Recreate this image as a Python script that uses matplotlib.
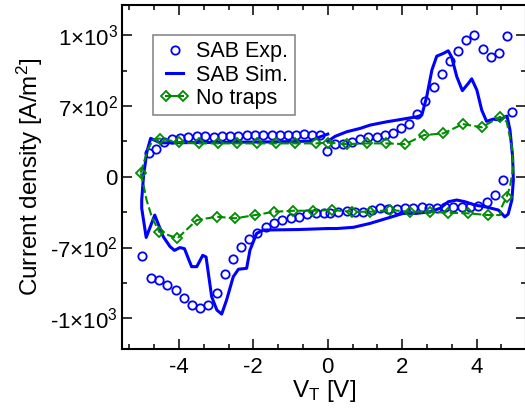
import numpy as np
import matplotlib
matplotlib.use('Agg')
import matplotlib.pyplot as plt
from matplotlib.lines import Line2D
from matplotlib.legend_handler import HandlerLine2D
from matplotlib.ticker import FixedLocator, FixedFormatter

plt.rcParams['font.family'] = ['Liberation Sans', 'DejaVu Sans']
plt.rcParams['mathtext.fontset'] = 'custom'
plt.rcParams['mathtext.rm'] = 'Liberation Sans'
plt.rcParams['mathtext.it'] = 'Liberation Sans:italic'
plt.rcParams['mathtext.bf'] = 'Liberation Sans:bold'
plt.rcParams['axes.unicode_minus'] = False

# ---------------- data ----------------
# SAB experiment (circles)
exp_v = [-0.10, -0.32, -0.55, -0.77, -0.99, -1.22, -1.44, -1.67, -1.89, -2.12, -2.33, -2.54,
         -2.76, -2.98, -3.21, -3.43, -3.65, -3.86, -4.09, -4.31, -4.53, -4.76, -4.98,
         -4.80, -4.62, -4.39, -4.19, -3.97, -3.75, -3.52, -3.30, -3.07, -2.85, -2.63, -2.40,
         -2.18, -1.96, -1.73, -1.51, -1.29, -1.06, -0.84, -0.64, -0.43, -0.21,
         -0.01, 0.20, 0.42, 0.645, 0.87, 1.09, 1.32, 1.54, 1.76, 1.97, 2.19, 2.41, 2.62,
         2.86, 3.07, 3.29, 3.50, 3.72, 3.94, 4.17, 4.39, 4.61, 4.83, 4.95,
         4.72, 4.50, 4.27, 4.05, 3.83, 3.60, 3.38, 3.15, 2.95, 2.73, 2.53, 2.30, 2.08, 1.85,
         1.63, 1.41, 1.18, 0.96, 0.73, 0.51, 0.28, 0.06]
exp_j = [-362, -362, -372, -395, -411, -428, -461, -500, -554, -616, -698, -750,
         -812, -894, -944, -958, -944, -915, -880, -859, -838, -830, -736,
         231, 274, 340, 370, 380, 390, 405, 402, 395, 402, 402, 405,
         412, 412, 412, 412, 412, 412, 412, 422, 412, 412,
         257, 323, 323, 346, 370, 390, 390, 412, 429, 478, 521, 620, 722,
         779, 835, 891, 934, 979, 999, 942, 908, 923, 996, 645,
         -33, -181, -250, -292, -300, -303, -297, -303, -312, -312, -295, -306, -312, -319,
         -319, -306, -329, -346, -346, -336, -346, -356]

# SAB simulation, sweep half V<=0 (lower branch -> left edge -> upper branch)
sim_left_v = [0.00, -0.80, -1.73, -1.91, -2.09, -2.18, -2.40, -2.54, -2.72, -2.85, -2.98,
              -3.12, -3.27, -3.36, -3.52, -3.66, -3.85, -3.97, -4.12, -4.24, -4.42, -4.65,
              -4.88, -5.00, -5.00, -4.95, -4.86, -4.76, -4.50, -3.00, -1.50, -0.50, -0.20, 0.00]
sim_left_j = [-512, -522, -527, -560, -711, -788, -792, -824, -923, -982, -965,
              -908, -740, -733, -781, -781, -705, -700, -712, -690, -593, -379,
              -600, -312, -230, 17, 247, 380, 335, 340, 345, 352, 395, 422]

# SAB simulation, sweep half V>=0 (upper branch -> right edge -> lower branch)
sim_right_v = [0.00, 0.20, 0.51, 0.87, 1.14, 1.59, 1.76, 2.39, 2.53, 2.66, 2.80, 2.93,
               3.11, 3.24, 3.33, 3.47, 3.62, 3.78, 3.87, 4.01, 4.14, 4.27, 4.45, 4.63,
               4.77, 4.82, 4.90, 4.97, 4.99, 4.95, 4.85, 4.76, 4.59, 4.23, 3.96, 3.69,
               3.47, 3.24, 3.02, 2.75, 2.39, 2.03, 1.59, 1.14, 0.69, 0.24, 0.00]
sim_right_j = [350, 400, 445, 478, 511, 544, 554, 593, 610, 739, 852, 911,
               923, 934, 908, 824, 765, 796, 815, 767, 659, 548, 570, 561,
               593, 600, 461, 198, -33, -230, -370, -397, -329, -297, -280, -247,
               -230, -247, -312, -346, -362, -362, -411, -461, -500, -512, -512]

# No traps simulation (closed loop)
nt_v = [-5.03, -4.84, -4.70, -4.52, -3.99, -3.47, -2.95, -2.43, -1.91, -1.39, -0.88, -0.31,
        0.00, 0.51, 1.05, 1.57, 2.08, 2.59, 3.11, 3.63, 4.14, 4.63, 4.81, 4.95, 4.99, 4.90,
        4.81, 4.68, 4.63, 4.32, 3.78, 3.24, 2.75, 2.21, 1.67, 1.14, 0.65, 0.11, -0.39,
        -0.92, -1.44, -1.95, -2.49, -2.98, -3.52, -4.04, -4.53, -4.60, -4.73, -4.87, -4.96, -5.03]
nt_j = [40, 263, 365, 378, 340, 330, 330, 330, 330, 330, 330, 330,
        338, 323, 330, 330, 323, 412, 429, 521, 489, 593, 544, 297, 99, -99,
        -198, -297, -379, -379, -362, -356, -346, -346, -329, -346, -346, -329, -336,
        -336, -346, -379, -411, -395, -428, -609, -544, -494, -395, -230, -65, 40]
nt_markers = [0, 3, 4, 5, 6, 7, 8, 9, 10, 11, 12, 13, 14, 15, 16, 17, 18, 19, 20, 21,
              26, 29, 30, 31, 32, 33, 34, 35, 36, 37, 38, 39, 40, 41, 42, 43, 44, 45, 46]

yticks = [-1000, -700, 0, 700, 1000]
ytick_labels = ['-1×10$^{3}$', '-7×10$^{2}$', '0', '7×10$^{2}$', '1×10$^{3}$']
yminor = [-850, -350, 350, 850]
xticks = [-4, -2, 0, 2, 4]
xtick_labels = ['-4', '-2', '0', '2', '4']

# ---------------- scale ----------------
def fwd(j):
    j = np.asarray(j, float)
    a = np.abs(j)
    return np.sign(j) * np.where(a <= 700, a / 700.0, 1 + (a - 700) / 300.0)

def inv(u):
    u = np.asarray(u, float)
    a = np.abs(u)
    return np.sign(u) * np.where(a <= 1, 700 * a, 700 + 300 * (a - 1))

BLUE = '#0000ff'
GREEN = '#008b00'

fig = plt.figure(figsize=(5.25, 4.09), dpi=100)
ax = fig.add_axes([122 / 525, 60 / 409, 404 / 525, 344 / 409])
ax.set_yscale('function', functions=(fwd, inv))

ax.plot(exp_v, exp_j, ls='none', marker='o', ms=6, mfc='none', mec=BLUE, mew=1.3, zorder=2)
ax.plot(sim_left_v, sim_left_j, color=BLUE, lw=2.2, zorder=3, solid_joinstyle='round')
ax.plot(sim_right_v, sim_right_j, color=BLUE, lw=2.2, zorder=3, solid_joinstyle='round')
ax.plot(nt_v, nt_j, color=GREEN, lw=1.5, ls=(0, (4, 1.6)), marker='D', ms=5.6,
        mfc='none', mec=GREEN, mew=1.3, markevery=nt_markers, zorder=4)

ax.set_xlim(-5.53, 5.33)
ax.set_ylim(-1130, 1128)

ax.xaxis.set_major_locator(FixedLocator(xticks))
ax.xaxis.set_major_formatter(FixedFormatter(xtick_labels))
ax.xaxis.set_minor_locator(FixedLocator([-5.333, -4.667, -3.333, -2.667, -1.333, -0.667,
                                         0.667, 1.333, 2.667, 3.333, 4.667, 5.333]))
ax.yaxis.set_major_locator(FixedLocator(yticks))
ax.yaxis.set_major_formatter(FixedFormatter(ytick_labels))
ax.yaxis.set_minor_locator(FixedLocator(yminor))

ax.tick_params(which='both', direction='in', top=True, right=True, width=1.1,
               labelsize=16, colors='black')
ax.tick_params(which='major', length=7)
ax.tick_params(which='minor', length=3.8)
ax.tick_params(axis='x', pad=6)
ax.tick_params(axis='y', pad=3)
for s in ax.spines.values():
    s.set_linewidth(1.5)

ax.set_xlabel('V$_{\\mathrm{T}}$ [V]', fontsize=17.5, labelpad=0)
ax.set_ylabel('Current density [A/m$^{2}$]', fontsize=17.5, labelpad=4)

h_exp = Line2D([], [], ls='none', marker='o', ms=6, mfc='none', mec=BLUE, mew=1.3)
h_sim = Line2D([], [], color=BLUE, lw=2.2)
h_nt = Line2D([], [], color=GREEN, lw=1.5, marker='D', ms=5.6, mfc='none', mec=GREEN, mew=1.3)
leg = ax.legend([h_exp, h_sim, h_nt], ['SAB Exp.', 'SAB Sim.', 'No traps'],
                loc='upper left', bbox_to_anchor=(0.077, 0.913), borderaxespad=0,
                fontsize=15.5, handlelength=1.4, handletextpad=0.3, labelspacing=0.1,
                borderpad=0.3, numpoints=2, fancybox=False, framealpha=1,
                edgecolor='#808080', handler_map={h_exp: HandlerLine2D(numpoints=1)})
leg.get_frame().set_linewidth(1.1)

fig.savefig('out.png', dpi=100)
